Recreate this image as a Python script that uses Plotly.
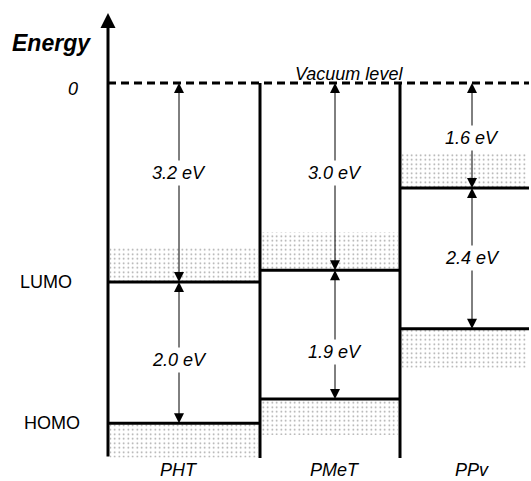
import plotly.graph_objects as go

# ---------------- data ----------------
materials = ["PHT", "PMeT", "PPv"]
lumo_gap_labels = ["3.2 eV", "3.0 eV", "1.6 eV"]      # vacuum -> LUMO
band_gap_labels = ["2.0 eV", "1.9 eV", "2.4 eV"]      # LUMO -> HOMO
lumo_level = [3.20, 3.01, 1.69]   # drawn depth below vacuum level (schematic, eV)
homo_level = [5.47, 5.08, 3.95]
lumo_band = [0.56, 0.61, 0.56]    # dotted band thickness above LUMO
homo_band = [0.55, 0.58, 0.63]    # dotted band thickness below HOMO
level_names = ["LUMO", "HOMO"]

# ---------------- layout / style constants ----------------
W, H = 531, 481
col_edges = [108, 260, 400, 529]
arrow_x = [179, 335, 472]
upper_label_shift = [-0.15, -0.06, 0.04]
lower_label_shift = [0.12, 0.28, 0.0]
y_top, y_bottom = -1.334, 6.399
axis_top, axis_bottom = -1.125, 6.03
FONT = "Liberation Sans, Arial, sans-serif"
FS = 18

fig = go.Figure()

# dotted bands
for i in range(3):
    x0, x1 = col_edges[i] + 2, col_edges[i + 1] - 2
    for (ya, yb) in [(lumo_level[i] - lumo_band[i], lumo_level[i]),
                     (homo_level[i], homo_level[i] + homo_band[i])]:
        fig.add_trace(go.Scatter(
            x=[x0, x1, x1, x0, x0], y=[ya, ya, yb, yb, ya],
            mode="lines", line=dict(width=0), fill="toself",
            fillcolor="rgba(0,0,0,0)",
            fillpattern=dict(shape=".", fgcolor="#333333", bgcolor="white",
                             size=4.5, solidity=0.1),
            hoverinfo="skip", showlegend=False))

# level lines
for i in range(3):
    x0, x1 = col_edges[i], col_edges[i + 1]
    for lv in (lumo_level[i], homo_level[i]):
        fig.add_trace(go.Scatter(x=[x0, x1], y=[lv, lv], mode="lines",
                                 line=dict(color="black", width=3),
                                 hoverinfo="skip", showlegend=False))

# vacuum level (dashed)
fig.add_trace(go.Scatter(x=[col_edges[0], col_edges[-1]], y=[0, 0], mode="lines",
                         line=dict(color="black", width=3, dash="8px,5px"),
                         hoverinfo="skip", showlegend=False))

# column separators
for xe in col_edges[1:3]:
    fig.add_trace(go.Scatter(x=[xe, xe], y=[0, axis_bottom], mode="lines",
                             line=dict(color="black", width=3),
                             hoverinfo="skip", showlegend=False))

annotations = []
# energy axis with arrow
annotations.append(dict(x=col_edges[0], y=axis_top, ax=col_edges[0], ay=axis_bottom,
                        xref="x", yref="y", axref="x", ayref="y", text="",
                        showarrow=True, arrowhead=2, arrowsize=1, arrowwidth=3,
                        arrowcolor="black", standoff=0))

# gap arrows (each span: two heads from label centre outward)
labels = []
for i in range(3):
    xa = arrow_x[i]
    spans = [(0, lumo_level[i], lumo_gap_labels[i], upper_label_shift[i]),
             (lumo_level[i], homo_level[i], band_gap_labels[i], lower_label_shift[i])]
    for (ya, yb, lab, sh) in spans:
        ym = (ya + yb) / 2 + sh
        for tip in (ya, yb):
            annotations.append(dict(x=xa, y=tip, ax=xa, ay=ym, xref="x", yref="y",
                                    axref="x", ayref="y", text="", showarrow=True,
                                    arrowhead=2, arrowsize=2.0, arrowwidth=1,
                                    arrowcolor="black", standoff=0))
        labels.append(dict(x=xa, y=ym, xref="x", yref="y", text=lab, showarrow=False,
                           bgcolor="white", borderpad=2,
                           font=dict(family=FONT, size=FS, color="black", style="italic")))
annotations += labels

# material names (anchored to the bottom edge of the picture)
for i, m in enumerate(materials):
    annotations.append(dict(x=arrow_x[i], y=0, xref="x", yref="paper",
                            yanchor="bottom", text=m, showarrow=False, borderpad=0,
                            font=dict(family=FONT, size=FS, color="black", style="italic")))

# axis texts
annotations.append(dict(x=51, y=(43 - 83) / 62.2, xref="x", yref="y", text="<b>Energy</b>",
                        showarrow=False,
                        font=dict(family=FONT, size=23, color="black", style="italic")))
annotations.append(dict(x=73, y=(89 - 83) / 62.2, xref="x", yref="y", text="0",
                        showarrow=False,
                        font=dict(family=FONT, size=FS, color="black", style="italic")))
annotations.append(dict(x=46, y=lumo_level[0], xref="x", yref="y", text=level_names[0],
                        showarrow=False, font=dict(family=FONT, size=FS, color="black")))
annotations.append(dict(x=52, y=homo_level[0], xref="x", yref="y", text=level_names[1],
                        showarrow=False, font=dict(family=FONT, size=FS, color="black")))
annotations.append(dict(x=349, y=(74 - 83) / 62.2, xref="x", yref="y", text="Vacuum level",
                        showarrow=False,
                        font=dict(family=FONT, size=FS, color="black", style="italic")))

fig.update_layout(
    width=W, height=H, margin=dict(l=0, r=0, t=0, b=0),
    paper_bgcolor="white", plot_bgcolor="white",
    xaxis=dict(range=[0, W], visible=False, fixedrange=True),
    yaxis=dict(range=[y_bottom, y_top], visible=False, fixedrange=True),
    annotations=annotations, showlegend=False,
)

fig.write_html("out.html")
